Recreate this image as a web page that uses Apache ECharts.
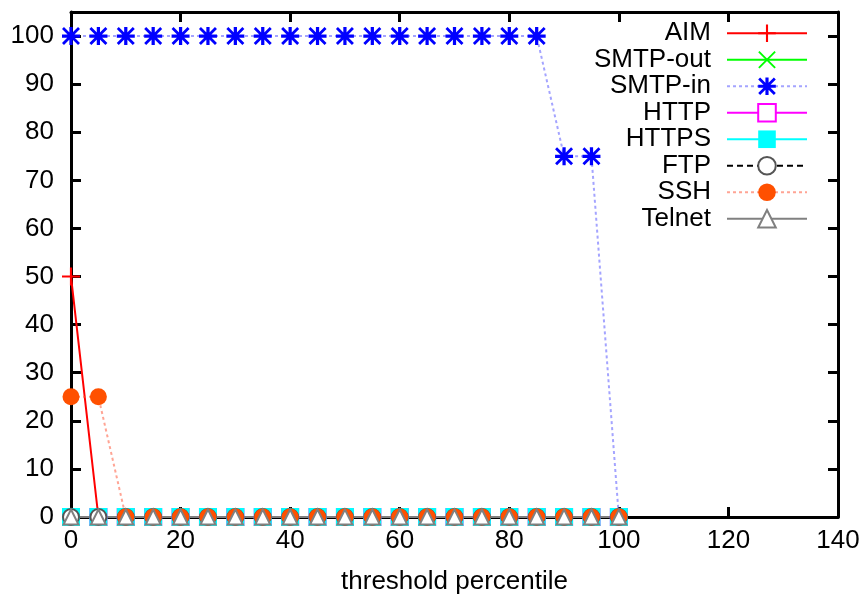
<!DOCTYPE html>
<html>
<head>
<meta charset="utf-8">
<script src="https://cdn.jsdelivr.net/npm/echarts@6/dist/echarts.min.js"></script>
<style>
  html, body { margin: 0; padding: 0; background: #fff; }
  #chart { width: 865px; height: 595px; }
</style>
</head>
<body>
<div id="chart"></div>
<script>
// Threshold percentiles on the x axis
const thresholds = [0, 5, 10, 15, 20, 25, 30, 35, 40, 45, 50, 55, 60, 65, 70, 75, 80, 85, 90, 95, 100];

// Percentage values per protocol
const aim     = [50, 0, 0, 0, 0, 0, 0, 0, 0, 0, 0, 0, 0, 0, 0, 0, 0, 0, 0, 0, 0];
const smtpOut = [0, 0, 0, 0, 0, 0, 0, 0, 0, 0, 0, 0, 0, 0, 0, 0, 0, 0, 0, 0, 0];
const smtpIn  = [100, 100, 100, 100, 100, 100, 100, 100, 100, 100, 100, 100, 100, 100, 100, 100, 100, 100, 75, 75, 0];
const http    = [0, 0, 0, 0, 0, 0, 0, 0, 0, 0, 0, 0, 0, 0, 0, 0, 0, 0, 0, 0, 0];
const https   = [0, 0, 0, 0, 0, 0, 0, 0, 0, 0, 0, 0, 0, 0, 0, 0, 0, 0, 0, 0, 0];
const ftp     = [0, 0, 0, 0, 0, 0, 0, 0, 0, 0, 0, 0, 0, 0, 0, 0, 0, 0, 0, 0, 0];
const ssh     = [25, 25, 0, 0, 0, 0, 0, 0, 0, 0, 0, 0, 0, 0, 0, 0, 0, 0, 0, 0, 0];
const telnet  = [0, 0, 0, 0, 0, 0, 0, 0, 0, 0, 0, 0, 0, 0, 0, 0, 0, 0, 0, 0, 0];

const FONT = "'Liberation Sans', Arial, Helvetica, sans-serif";

// gnuplot-like point shapes
const PLUS = 'path://M0,8.8H20V11.2H0Z M8.8,0H11.2V20H8.8Z';
const CROSS = 'path://M0,1.5L1.5,0L20,18.5L18.5,20Z M18.5,0L20,1.5L1.5,20L0,18.5Z';
const STAR = 'path://M0,8.2H20V11.8H0Z M8.2,0H11.8V20H8.2Z M0,2.2L2.2,0L20,17.8L17.8,20Z M17.8,0L20,2.2L2.2,20L0,17.8Z';

function pairs(values) {
  return thresholds.map((t, i) => [t, values[i]]);
}

function makeSeries(name, values, color, symbol, size, line, item) {
  return {
    name: name,
    type: 'line',
    data: pairs(values),
    xAxisIndex: 0,
    yAxisIndex: 0,
    color: color,
    symbol: symbol,
    symbolSize: size,
    showAllSymbol: true,
    lineStyle: Object.assign({ color: color, width: 2 }, line || {}),
    itemStyle: Object.assign({ color: color }, item || {}),
    emphasis: { disabled: true },
    animation: false
  };
}

const axisLine = { show: true, onZero: false, lineStyle: { color: '#000', width: 3 } };
const axisTick = { show: true, inside: true, length: 10, lineStyle: { color: '#000', width: 3 } };

const option = {
  backgroundColor: '#fff',
  animation: false,
  grid: { left: 71, right: 27, top: 12, bottom: 78, show: false, containLabel: false, outerBoundsMode: 'none' },
  legend: {
    orient: 'vertical',
    align: 'right',
    right: 57,
    top: 20,
    padding: 0,
    itemGap: 0,
    itemWidth: 80,
    itemHeight: 22,
    selectedMode: false,
    textStyle: {
      fontFamily: FONT,
      fontSize: 26,
      color: '#000',
      lineHeight: 26.5,
      padding: [0, 11, 0, 0]
    },
    data: ['AIM', 'SMTP-out', 'SMTP-in', 'HTTP', 'HTTPS', 'FTP', 'SSH', 'Telnet']
  },
  xAxis: [
    {
      type: 'value',
      position: 'bottom',
      min: 0, max: 140, interval: 20,
      name: 'threshold percentile',
      nameLocation: 'middle',
      nameGap: 52,
      nameTextStyle: { fontFamily: FONT, fontSize: 26, color: '#000' },
      axisLine: axisLine,
      axisTick: axisTick,
      axisLabel: { fontFamily: FONT, fontSize: 26, color: '#000', margin: 11 },
      splitLine: { show: false }
    },
    {
      type: 'value',
      position: 'top',
      min: 0, max: 140, interval: 20,
      axisLine: axisLine,
      axisTick: axisTick,
      axisLabel: { show: false },
      splitLine: { show: false }
    }
  ],
  yAxis: [
    {
      type: 'value',
      position: 'left',
      min: 0, max: 105, interval: 10,
      axisLine: axisLine,
      axisTick: axisTick,
      axisLabel: { fontFamily: FONT, fontSize: 26, color: '#000', margin: 17, showMaxLabel: false },
      splitLine: { show: false }
    },
    {
      type: 'value',
      position: 'right',
      min: 0, max: 105, interval: 10,
      axisLine: axisLine,
      axisTick: axisTick,
      axisLabel: { show: false },
      splitLine: { show: false }
    }
  ],
  series: [
    makeSeries('AIM', aim, '#ff0000', PLUS, 18),
    makeSeries('SMTP-out', smtpOut, '#00ff00', CROSS, 16),
    makeSeries('SMTP-in', smtpIn, '#0000ff', STAR, 18,
      { color: 'rgba(90,90,255,0.55)', type: [3, 3] }),
    makeSeries('HTTP', http, '#ff00ff', 'emptyRect', 16, null, { borderWidth: 2 }),
    makeSeries('HTTPS', https, '#00ffff', 'rect', 18),
    makeSeries('FTP', ftp, '#000000', 'emptyCircle', 16,
      { type: [6, 4] }, { color: '#555', borderColor: '#555', borderWidth: 2 }),
    makeSeries('SSH', ssh, '#ff5000', 'circle', 17,
      { color: 'rgba(255,90,60,0.55)', type: [3, 3] }),
    makeSeries('Telnet', telnet, '#808080', 'emptyTriangle', 15, null, { borderWidth: 2 })
  ]
};

const chart = echarts.init(document.getElementById('chart'), null, { renderer: 'canvas' });
chart.setOption(option);
</script>
</body>
</html>
